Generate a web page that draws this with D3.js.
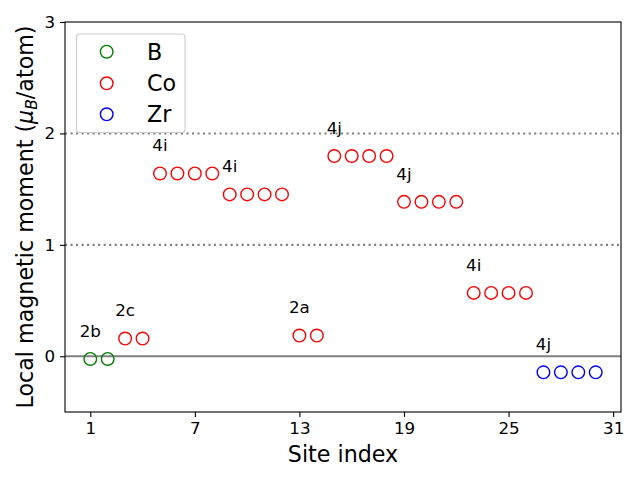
<!DOCTYPE html>
<html>
<head>
<meta charset="utf-8">
<script src="https://cdn.jsdelivr.net/npm/d3@7"></script>
<style>
  body { margin: 0; background: #fff; }
  svg { display: block; font-family: "DejaVu Sans", sans-serif; }
</style>
</head>
<body>
<svg id="chart" width="640" height="480"></svg>
<script>
// ---- data ----
const bSites = [1, 2];
const bValues = [-0.024, -0.024];
const coSites = [3, 4, 5, 6, 7, 8, 9, 10, 11, 12, 13, 14, 15, 16, 17, 18, 19, 20, 21, 22, 23, 24, 25, 26];
const coValues = [0.159, 0.159, 1.641, 1.641, 1.641, 1.641, 1.453, 1.453, 1.453, 1.453,
                  0.186, 0.186, 1.797, 1.797, 1.797, 1.797, 1.386, 1.386, 1.386, 1.386,
                  0.569, 0.569, 0.569, 0.569];
const zrSites = [27, 28, 29, 30];
const zrValues = [-0.144, -0.144, -0.144, -0.144];
const wyckoffLabels = ["2b", "2c", "4i", "4i", "2a", "4j", "4j", "4i", "4j"];
const wyckoffSites = [1, 3, 5, 9, 13, 15, 19, 23, 27];
const wyckoffValues = [-0.024, 0.159, 1.641, 1.453, 0.186, 1.797, 1.386, 0.569, -0.144];
const xTicks = [1, 7, 13, 19, 25, 31];
const yTicks = [0, 1, 2, 3];
const refLinesDotted = [1, 2];
const refLineSolid = 0;
const seriesNames = ["B", "Co", "Zr"];
const seriesColors = ["green", "red", "blue"];

// ---- layout ----
const svg = d3.select("#chart");
const L = 65, R = 621, T = 22, B = 412;
const x = d3.scaleLinear().domain([-0.45, 31.45]).range([L, R]);
const y = d3.scaleLinear().domain([-0.5, 3]).range([B, T]);

// reference lines
svg.selectAll("line.dot").data(refLinesDotted).enter().append("line")
  .attr("x1", L).attr("x2", R)
  .attr("y1", d => y(d)).attr("y2", d => y(d))
  .attr("stroke", "gray").attr("stroke-width", 2.08)
  .attr("stroke-dasharray", "2.08,3.44");
svg.append("line")
  .attr("x1", L).attr("x2", R)
  .attr("y1", y(refLineSolid)).attr("y2", y(refLineSolid))
  .attr("stroke", "gray").attr("stroke-width", 2.08);

// points
const series = [
  {sites: bSites, values: bValues, color: seriesColors[0]},
  {sites: coSites, values: coValues, color: seriesColors[1]},
  {sites: zrSites, values: zrValues, color: seriesColors[2]}
];
series.forEach(s => {
  svg.append("g").selectAll("circle").data(s.sites).enter().append("circle")
    .attr("cx", d => x(d))
    .attr("cy", (d, i) => y(s.values[i]))
    .attr("r", 6.3)
    .attr("fill", "none")
    .attr("stroke", s.color)
    .attr("stroke-width", 1.4);
});

// annotations
svg.append("g").selectAll("text").data(wyckoffLabels).enter().append("text")
  .attr("x", (d, i) => x(wyckoffSites[i]))
  .attr("y", (d, i) => y(wyckoffValues[i] + 0.2))
  .attr("text-anchor", "middle")
  .attr("font-size", "16.7px")
  .attr("fill", "#000")
  .text(d => d);

// axes
const xAxis = d3.axisBottom(x).tickValues(xTicks).tickSize(4.9).tickPadding(4.9).tickFormat(d3.format("d"));
const yAxis = d3.axisLeft(y).tickValues(yTicks).tickSize(4.9).tickPadding(4.9).tickFormat(d3.format("d"));
const gx = svg.append("g").attr("transform", `translate(0,${B})`).call(xAxis);
const gy = svg.append("g").attr("transform", `translate(${L},0)`).call(yAxis);
[gx, gy].forEach(g => {
  g.select(".domain").remove();
  g.selectAll("line").attr("stroke", "#000").attr("stroke-width", 1.1);
  g.selectAll("text").attr("font-size", "16.7px").attr("fill", "#000")
    .attr("font-family", "DejaVu Sans, sans-serif");
});

// frame
svg.append("rect").attr("x", L).attr("y", T).attr("width", R - L).attr("height", B - T)
  .attr("fill", "none").attr("stroke", "#000").attr("stroke-width", 1.1);

// axis labels
svg.append("text").attr("x", (L + R) / 2).attr("y", 462)
  .attr("text-anchor", "middle").attr("font-size", "22.2px").text("Site index");
const yl = svg.append("text")
  .attr("transform", `translate(33,${(T + B) / 2}) rotate(-90)`)
  .attr("text-anchor", "middle").attr("font-size", "22.2px");
yl.append("tspan").text("Local magnetic moment (");
yl.append("tspan").attr("font-style", "italic").text("μ");
yl.append("tspan").attr("font-style", "italic").attr("font-size", "15.5px").attr("dy", "4").text("B");
yl.append("tspan").attr("dy", "-4").text("/atom)");

// legend
const lg = svg.append("g");
lg.append("rect").attr("x", 76.5).attr("y", 34).attr("width", 108.5).attr("height", 98.5)
  .attr("rx", 3).attr("fill", "#fff").attr("fill-opacity", 0.8)
  .attr("stroke", "#ccc").attr("stroke-width", 1.1);
const legY = [51.7, 83.3, 114.3];
seriesNames.forEach((n, i) => {
  lg.append("circle").attr("cx", 106.7).attr("cy", legY[i]).attr("r", 6.3)
    .attr("fill", "none").attr("stroke", seriesColors[i]).attr("stroke-width", 1.4);
  lg.append("text").attr("x", 147).attr("y", legY[i] + 7.8)
    .attr("font-size", "22.2px").attr("fill", "#000").text(n);
});
</script>
</body>
</html>
